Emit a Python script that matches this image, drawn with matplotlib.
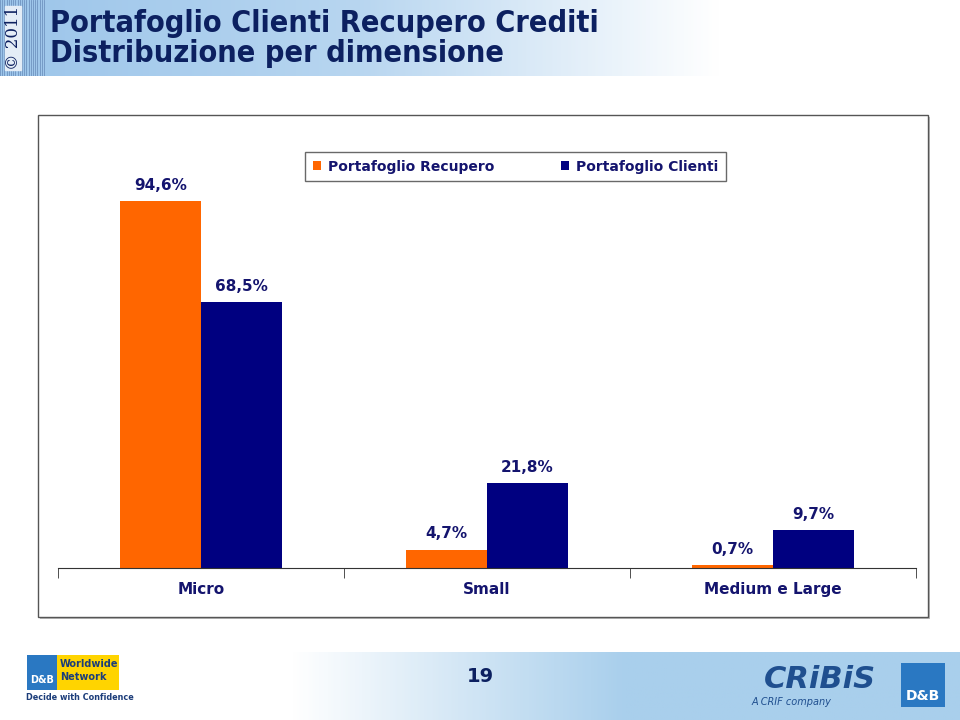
import matplotlib.pyplot as plt
import numpy as np
from matplotlib.patches import Rectangle
from matplotlib.colors import LinearSegmentedColormap

# data
categories = ["Micro", "Small", "Medium e Large"]
recupero = [94.6, 4.7, 0.7]
clienti = [68.5, 21.8, 9.7]
series_names = ["Portafoglio Recupero", "Portafoglio Clienti"]

ORANGE = "#ff6600"
NAVY = "#000080"
TXT = "#14146e"
TITLE = "#0c2060"
W, H = 960, 720

fig = plt.figure(figsize=(9.6, 7.2), dpi=100)
fig.patch.set_facecolor("white")

def fx(x):
    return x / W

def fy(y):
    return 1 - y / H

# header gradient
hdr = fig.add_axes([0, fy(76), 1, 76 / H])
cm = LinearSegmentedColormap.from_list("hdr", ["#9cc5ea", "#b8d6f0", "#ffffff"])
grad = np.linspace(0, 1, 400)
grad = np.clip(grad / 0.75, 0, 1)
hdr.imshow(grad[None, :], aspect="auto", cmap=cm, extent=[0, W, 0, 76])
# striped left strip
for xs in np.arange(0, 46, 2.2):
    hdr.plot([xs, xs], [0, 76], color="#6f93c0", lw=0.6)
hdr.add_patch(Rectangle((5, 6), 16, 64, color="#e4edf7", zorder=3))
hdr.text(13, 38, "© 2011", rotation=90, ha="center", va="center",
         fontsize=12, color=TITLE, family="DejaVu Serif", zorder=4)
hdr.set_xlim(0, W)
hdr.set_ylim(0, 76)
hdr.axis("off")

fig.text(fx(50), fy(23), "Portafoglio Clienti Recupero Crediti", fontsize=22,
         fontweight="bold", color=TITLE, va="center", ha="left", fontstretch="condensed")
fig.text(fx(50), fy(54), "Distribuzione per dimensione", fontsize=22,
         fontweight="bold", color=TITLE, va="center", ha="left", fontstretch="condensed")

# footer gradient
ftr = fig.add_axes([fx(290), 0, 1 - fx(290), 68 / H])
cm2 = LinearSegmentedColormap.from_list("ftr", ["#ffffff", "#a9cfec", "#a9cfec"])
ftr.imshow(np.linspace(0, 1, 300)[None, :], aspect="auto", cmap=cm2, extent=[0, 1, 0, 1])
ftr.axis("off")
fig.text(fx(480), fy(677), "19", fontsize=14, fontweight="bold", color=TITLE,
         ha="center", va="center")

# logos (approximate)
fig.patches.append(Rectangle((fx(27), fy(690)), fx(92), 35 / H, transform=fig.transFigure,
                             facecolor="#ffd400", edgecolor="none"))
fig.patches.append(Rectangle((fx(27), fy(690)), fx(30), 35 / H, transform=fig.transFigure,
                             facecolor="#2a78c2", edgecolor="none"))
fig.text(fx(42), fy(680), "D&B", fontsize=7, color="white", fontweight="bold", ha="center", va="center")
fig.text(fx(60), fy(664), "Worldwide", fontsize=7, color="#1c3d7a", fontweight="bold", va="center")
fig.text(fx(60), fy(677), "Network", fontsize=7, color="#1c3d7a", fontweight="bold", va="center")
fig.text(fx(26), fy(697), "Decide with Confidence", fontsize=6.5, color="#1c3d7a",
         fontweight="bold", va="center", fontstretch="condensed")
fig.text(fx(820), fy(680), "CRiBiS", fontsize=22, color="#1f4f8f", fontweight="bold",
         style="italic", ha="center", va="center")
fig.text(fx(752), fy(702), "A CRIF company", fontsize=7, color="#1f4f8f", style="italic", va="center")
fig.patches.append(Rectangle((fx(901), fy(707)), fx(44), 44 / H, transform=fig.transFigure,
                             facecolor="#2a78c2", edgecolor="none"))
fig.text(fx(923), fy(696), "D&B", fontsize=10, color="white", fontweight="bold", ha="center", va="center")

# chart frame
fig.patches.append(Rectangle((fx(40), fy(619)), fx(890), 502 / H, transform=fig.transFigure,
                             facecolor="#bbbbbb", edgecolor="none", zorder=0))
fig.patches.append(Rectangle((fx(38), fy(617)), fx(890), 502 / H, transform=fig.transFigure,
                             facecolor="white", edgecolor="#555555", lw=1.0, zorder=0.5))

# chart
ax = fig.add_axes([fx(58), fy(568), fx(858), (568 - 180) / H])
ax.set_zorder(2)
ax.patch.set_alpha(0)
x = np.arange(len(categories))
bw = 0.283
b1 = ax.bar(x - bw / 2, recupero, bw, color=ORANGE, label=series_names[0], zorder=2)
b2 = ax.bar(x + bw / 2, clienti, bw, color=NAVY, label=series_names[1], zorder=2)
for bars, vals in ((b1, recupero), (b2, clienti)):
    for r, v in zip(bars, vals):
        ax.annotate(f"{v:.1f}%".replace(".", ","), (r.get_x() + r.get_width() / 2, v),
                    xytext=(0, 6), textcoords="offset points", ha="center", va="bottom",
                    fontsize=11, fontweight="bold", color=TXT)

ax.set_xlim(-0.5, len(categories) - 0.5)
ax.set_ylim(0, 100)
for s in ("top", "right", "left"):
    ax.spines[s].set_visible(False)
ax.spines["bottom"].set_color("#333333")
ax.set_yticks([])
ax.set_xticks(x)
ax.set_xticklabels(categories, fontsize=11, fontweight="bold", color=TXT)
ax.tick_params(axis="x", which="major", length=0, pad=10)
ax.set_xticks(np.arange(len(categories) + 1) - 0.5, minor=True)
ax.tick_params(axis="x", which="minor", length=7, color="#333333")

leg = fig.legend(handles=[b1, b2], loc="center left", bbox_to_anchor=(fx(305), fy(166.5)),
                 ncol=2, frameon=True, fancybox=False, fontsize=10, handlelength=0.6,
                 handleheight=0.6, handletextpad=0.5, columnspacing=4.8, borderpad=0.55,
                 borderaxespad=0)
leg.set_zorder(5)
leg.get_frame().set_edgecolor("#444444")
leg.get_frame().set_linewidth(1.0)
for t in leg.get_texts():
    t.set_color(TXT)
    t.set_fontweight("bold")

fig.savefig("out.png", dpi=100)
